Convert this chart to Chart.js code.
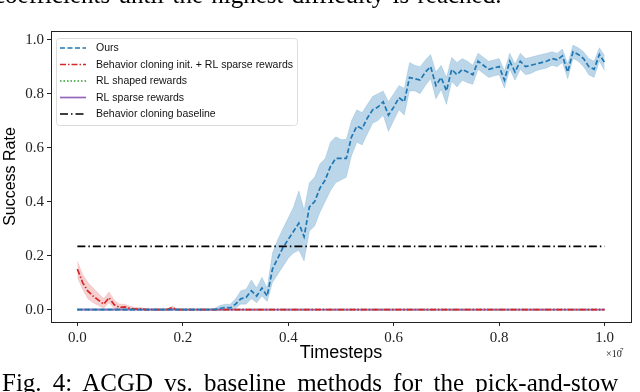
<!DOCTYPE html>
<html>
<head>
<meta charset="utf-8">
<script src="https://cdn.jsdelivr.net/npm/chart.js@4"></script>
<style>
  html, body { margin: 0; padding: 0; background: #fff; }
  #wrap { position: relative; width: 640px; height: 392px; overflow: hidden; }
  #chart { position: absolute; left: 0; top: 0; }
  .caption { position: absolute; left: 0; white-space: nowrap; font-family: 'Liberation Serif', serif; font-size: 25px; color: #000; }
  #capTop { top: -19px; left: -6px; word-spacing: 2px; }
  #capBottom { top: 369px; left: 2px; word-spacing: 5px; }
</style>
</head>
<body>
<div id="wrap">
  <canvas id="chart" width="640" height="392"></canvas>
  <div class="caption" id="capTop">coefficients until the highest difficulty is reached.</div>
  <div class="caption" id="capBottom">Fig. 4: ACGD vs. baseline methods for the pick-and-stow</div>
</div>
<script>
// Timesteps in units of 1e7
const timesteps = [0.00,0.01,0.02,0.03,0.04,0.05,0.06,0.07,0.08,0.09,0.10,0.11,0.12,0.13,0.14,0.15,0.16,0.17,0.18,0.19,
  0.20,0.21,0.22,0.23,0.24,0.25,0.26,0.27,0.28,0.29,0.30,0.31,0.32,0.33,0.34,0.35,0.36,0.37,0.38,0.39,
  0.40,0.41,0.42,0.43,0.44,0.45,0.46,0.47,0.48,0.49,0.50,0.51,0.52,0.53,0.54,0.55,0.56,0.57,0.58,0.59,
  0.60,0.61,0.62,0.63,0.64,0.65,0.66,0.67,0.68,0.69,0.70,0.71,0.72,0.73,0.74,0.75,0.76,0.77,0.78,0.79,
  0.80,0.81,0.82,0.83,0.84,0.85,0.86,0.87,0.88,0.89,0.90,0.91,0.92,0.93,0.94,0.95,0.96,0.97,0.98,0.99,1.00];

// Ours (mean, lower, upper)
const oursMean = [0,0,0,0,0,0,0,0,0,0,0,0,0,0,0,0,0,0,0,0,
  0,0,0,0,0,0,0,0.004,0.008,0.006,0.02,0.04,0.045,0.07,0.05,0.08,0.05,0.15,0.19,0.23,
  0.26,0.29,0.32,0.27,0.38,0.40,0.45,0.48,0.53,0.56,0.56,0.56,0.64,0.68,0.67,0.71,0.74,0.75,0.77,0.72,
  0.75,0.785,0.77,0.86,0.855,0.85,0.88,0.90,0.83,0.86,0.81,0.89,0.87,0.89,0.88,0.87,0.92,0.905,0.89,0.895,
  0.90,0.85,0.92,0.88,0.92,0.90,0.905,0.91,0.915,0.92,0.93,0.925,0.94,0.88,0.955,0.945,0.93,0.90,0.89,0.945,0.915];
const oursLow = [0,0,0,0,0,0,0,0,0,0,0,0,0,0,0,0,0,0,0,0,
  0,0,0,0,0,0,0,0,0,0,0.005,0.02,0.02,0.04,0.025,0.05,0.03,0.10,0.13,0.16,
  0.19,0.21,0.22,0.18,0.29,0.31,0.36,0.40,0.44,0.47,0.48,0.49,0.57,0.62,0.61,0.65,0.69,0.70,0.72,0.66,
  0.70,0.74,0.72,0.81,0.81,0.80,0.83,0.855,0.78,0.815,0.76,0.845,0.825,0.85,0.84,0.835,0.89,0.875,0.86,0.865,
  0.87,0.82,0.89,0.85,0.89,0.87,0.875,0.885,0.89,0.895,0.905,0.90,0.915,0.855,0.93,0.92,0.90,0.87,0.86,0.92,0.885];
const oursHigh = [0.003,0.003,0.003,0.003,0.003,0.003,0.003,0.003,0.003,0.003,0.003,0.003,0.003,0.003,0.003,0.003,0.003,0.003,0.003,0.003,
  0.003,0.003,0.003,0.003,0.003,0.003,0.004,0.015,0.02,0.02,0.04,0.07,0.075,0.11,0.08,0.12,0.08,0.21,0.26,0.30,
  0.34,0.38,0.44,0.37,0.47,0.49,0.54,0.56,0.62,0.64,0.63,0.63,0.70,0.74,0.73,0.76,0.79,0.80,0.81,0.77,
  0.80,0.83,0.82,0.915,0.905,0.90,0.925,0.945,0.88,0.905,0.86,0.935,0.915,0.93,0.92,0.905,0.95,0.935,0.92,0.925,
  0.93,0.885,0.95,0.91,0.95,0.93,0.935,0.94,0.945,0.95,0.955,0.95,0.965,0.91,0.98,0.97,0.955,0.93,0.92,0.97,0.94];

// Behavior cloning init. + RL sparse rewards
const bcRlMean = [0.15,0.10,0.068,0.05,0.035,0.02,0.044,0.018,0.008,0.01,0.004,0.002,0.003,0,0,0,0,0,0.007,0,
  0,0,0,0,0,0,0,0,0,0,0,0,0,0,0,0,0,0,0,0,0,0,0,0,0,0,0,0,0,0,0,0,0,0,0,0,0,0,0,0,
  0,0,0,0,0,0,0,0,0,0,0,0,0,0,0,0,0,0,0,0,0,0,0,0,0,0,0,0,0,0,0,0,0,0,0,0,0,0,0,0,0];
const bcRlLow = [0.12,0.075,0.04,0.025,0.015,0.005,0.025,0.005,0,0,0,0,0,0,0,0,0,0,0.002,0,
  0,0,0,0,0,0,0,0,0,0,0,0,0,0,0,0,0,0,0,0,0,0,0,0,0,0,0,0,0,0,0,0,0,0,0,0,0,0,0,0,
  0,0,0,0,0,0,0,0,0,0,0,0,0,0,0,0,0,0,0,0,0,0,0,0,0,0,0,0,0,0,0,0,0,0,0,0,0,0,0,0,0];
const bcRlHigh = [0.18,0.13,0.10,0.08,0.06,0.04,0.065,0.035,0.02,0.02,0.012,0.008,0.008,0.003,0.002,0.002,0.002,0.002,0.013,0.002,
  0,0,0,0,0,0,0,0,0,0,0,0,0,0,0,0,0,0,0,0,0,0,0,0,0,0,0,0,0,0,0,0,0,0,0,0,0,0,0,0,
  0,0,0,0,0,0,0,0,0,0,0,0,0,0,0,0,0,0,0,0,0,0,0,0,0,0,0,0,0,0,0,0,0,0,0,0,0,0,0,0,0];

// RL baselines stay at zero
const rlShaped = [0,0,0,0,0,0,0,0,0,0,0,0,0,0,0,0,0,0,0,0,0,0,0,0,0,0,0,0,0,0,0,0,0,0,0,0,0,0,0,0,0,0,0,0,0,0,0,0,0,0,
  0,0,0,0,0,0,0,0,0,0,0,0,0,0,0,0,0,0,0,0,0,0,0,0,0,0,0,0,0,0,0,0,0,0,0,0,0,0,0,0,0,0,0,0,0,0,0,0,0,0,0];
const rlSparse = [0,0,0,0,0,0,0,0,0,0,0,0,0,0,0,0,0,0,0,0,0,0,0,0,0,0,0,0,0,0,0,0,0,0,0,0,0,0,0,0,0,0,0,0,0,0,0,0,0,0,
  0,0,0,0,0,0,0,0,0,0,0,0,0,0,0,0,0,0,0,0,0,0,0,0,0,0,0,0,0,0,0,0,0,0,0,0,0,0,0,0,0,0,0,0,0,0,0,0,0,0,0];

// Behavior cloning baseline (constant)
const baselineX = [0, 1.0];
const baselineY = [0.234, 0.234];

const xTicks = [0, 0.2, 0.4, 0.6, 0.8, 1.0];
const yTicks = [0, 0.2, 0.4, 0.6, 0.8, 1.0];

const pts = (xs, ys) => xs.map((x, i) => ({ x: x, y: ys[i] }));

// matplotlib-like box around the axes
const frame = {
    id: 'frame',
    afterDatasetsDraw(chart) {
        const a = chart.chartArea, ctx = chart.ctx;
        ctx.save();
        ctx.strokeStyle = '#222';
        ctx.lineWidth = 1;
        ctx.strokeRect(Math.round(a.left) + 0.5, Math.round(a.top) + 0.5,
            Math.round(a.right - a.left), Math.round(a.bottom - a.top));
        // offset text for x axis
        ctx.fillStyle = '#222';
        ctx.font = '10px "Liberation Serif"';
        ctx.textBaseline = 'alphabetic';
        ctx.fillText('\u00d710', 606, 357);
        ctx.font = '7px "Liberation Serif"';
        ctx.fillText('7', 620, 352);
        ctx.restore();
    }
};

// legend drawn inside the plot, upper left
const insetLegend = {
    id: 'insetLegend',
    afterDraw(chart) {
        const ctx = chart.ctx;
        const items = chart.data.datasets.filter(d => d.inLegend);
        const x0 = 56.5, y0 = 38.5, w = 241, h = 87, r = 3;
        ctx.save();
        ctx.beginPath();
        ctx.moveTo(x0 + r, y0);
        ctx.arcTo(x0 + w, y0, x0 + w, y0 + h, r);
        ctx.arcTo(x0 + w, y0 + h, x0, y0 + h, r);
        ctx.arcTo(x0, y0 + h, x0, y0, r);
        ctx.arcTo(x0, y0, x0 + w, y0, r);
        ctx.closePath();
        ctx.fillStyle = 'rgba(255,255,255,0.8)';
        ctx.fill();
        ctx.strokeStyle = '#dcdcdc';
        ctx.lineWidth = 1;
        ctx.stroke();
        ctx.font = '10.5px "Liberation Sans"';
        ctx.textBaseline = 'middle';
        items.forEach((d, k) => {
            const y = 48 + k * 16.5;
            ctx.beginPath();
            ctx.setLineDash(d.borderDash || []);
            ctx.strokeStyle = d.borderColor;
            ctx.lineWidth = d.borderWidth;
            ctx.moveTo(60, y);
            ctx.lineTo(86, y);
            ctx.stroke();
            ctx.setLineDash([]);
            ctx.fillStyle = '#111';
            ctx.fillText(d.label, 96, y + 0.5);
        });
        ctx.restore();
    }
};

new Chart(document.getElementById('chart'), {
    type: 'line',
    data: {
        datasets: [
            {
                label: 'Ours',
                inLegend: true,
                data: pts(timesteps, oursMean),
                borderColor: '#1f77b4',
                borderWidth: 1.7,
                borderDash: [5, 2.5],
                order: 1
            },
            {
                label: 'Behavior cloning init. + RL sparse rewards',
                inLegend: true,
                data: pts(timesteps, bcRlMean),
                borderColor: '#d62728',
                borderWidth: 1.7,
                borderDash: [6, 2, 1.5, 2],
                order: 2
            },
            {
                label: 'RL shaped rewards',
                inLegend: true,
                data: pts(timesteps, rlShaped),
                borderColor: '#2ca02c',
                borderWidth: 1.7,
                borderDash: [1.5, 2],
                order: 4
            },
            {
                label: 'RL sparse rewards',
                inLegend: true,
                data: pts(timesteps, rlSparse),
                borderColor: '#9467bd',
                borderWidth: 1.7,
                order: 3
            },
            {
                label: 'Behavior cloning baseline',
                inLegend: true,
                data: pts(baselineX, baselineY),
                borderColor: '#000000',
                borderWidth: 1.7,
                borderDash: [8, 3, 1.5, 3],
                order: 0
            },
            {
                label: 'ours-low',
                data: pts(timesteps, oursLow),
                borderColor: 'rgba(31,119,180,0.15)',
                borderWidth: 1,
                fill: false,
                order: 10
            },
            {
                label: 'ours-high',
                data: pts(timesteps, oursHigh),
                borderColor: 'rgba(31,119,180,0.15)',
                borderWidth: 1,
                backgroundColor: 'rgba(31,119,180,0.3)',
                fill: 5,
                order: 10
            },
            {
                label: 'bc-low',
                data: pts(timesteps, bcRlLow),
                borderColor: 'rgba(214,39,40,0.12)',
                borderWidth: 1,
                fill: false,
                order: 11
            },
            {
                label: 'bc-high',
                data: pts(timesteps, bcRlHigh),
                borderColor: 'rgba(214,39,40,0.12)',
                borderWidth: 1,
                backgroundColor: 'rgba(214,39,40,0.22)',
                fill: 7,
                order: 11
            }
        ]
    },
    options: {
        responsive: false,
        animation: false,
        devicePixelRatio: 1,
        elements: { point: { radius: 0 }, line: { tension: 0 } },
        layout: { padding: { left: 0, right: 9, top: 31, bottom: 20 } },
        plugins: {
            legend: { display: false },
            tooltip: { enabled: false }
        },
        scales: {
            x: {
                type: 'linear',
                min: -0.05,
                max: 1.05,
                afterBuildTicks: s => { s.ticks = xTicks.map(v => ({ value: v })); },
                afterFit: s => { s.height = 50; },
                border: { display: false },
                grid: { drawOnChartArea: false, drawTicks: true, tickLength: 4, color: '#222' },
                ticks: {
                    padding: 3,
                    color: '#222',
                    font: { family: 'Liberation Serif', size: 15 },
                    callback: v => v.toFixed(1)
                },
                title: {
                    display: true,
                    text: 'Timesteps',
                    color: '#000',
                    font: { family: 'Liberation Sans', size: 18 },
                    padding: { top: 0, bottom: 8 }
                }
            },
            y: {
                min: -0.046,
                max: 1.032,
                afterBuildTicks: s => { s.ticks = yTicks.map(v => ({ value: v })); },
                afterFit: s => { s.width = 51; },
                border: { display: false },
                grid: { drawOnChartArea: false, drawTicks: true, tickLength: 4, color: '#222' },
                ticks: {
                    padding: 3,
                    color: '#222',
                    font: { family: 'Liberation Serif', size: 15 },
                    callback: v => v.toFixed(1)
                },
                title: {
                    display: true,
                    text: 'Success Rate',
                    color: '#000',
                    font: { family: 'Liberation Sans', size: 16 },
                    padding: { top: 1, bottom: 0 }
                }
            }
        }
    },
    plugins: [frame, insetLegend]
});
</script>
</body>
</html>
